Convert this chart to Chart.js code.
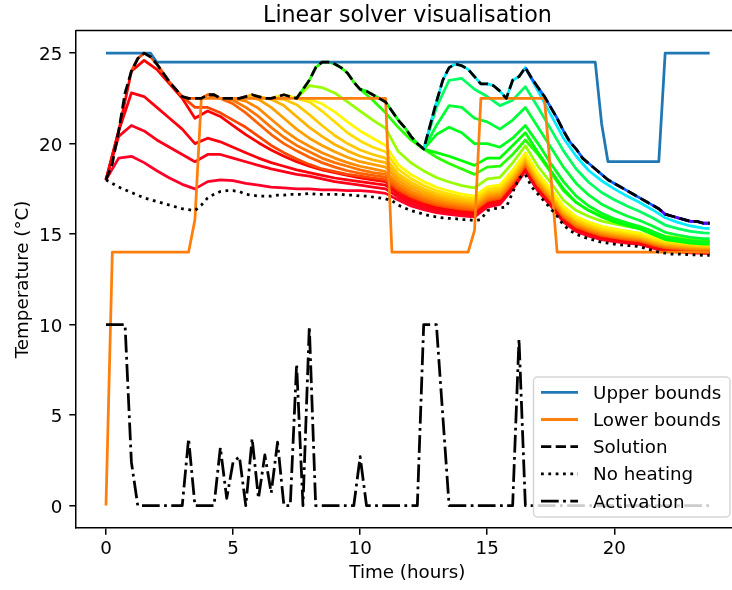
<!DOCTYPE html>
<html>
<head>
<meta charset="utf-8">
<script src="https://cdn.jsdelivr.net/npm/chart.js@4.4.1/dist/chart.umd.min.js"></script>
<style>
  html, body { margin: 0; padding: 0; background: #fff; }
  canvas { display: block; }
</style>
</head>
<body>
<canvas id="solverChart" width="732" height="590" style="width:732px;height:590px"></canvas>
<script>
// Time axis (hours), quarter-hour steps
const hours = [0,0.25,0.5,0.75,1,1.25,1.5,1.75,2,2.25,2.5,2.75,3,3.25,3.5,3.75,4,4.25,4.5,4.75,5,5.25,5.5,5.75,6,6.25,6.5,6.75,7,7.25,7.5,7.75,8,8.25,8.5,8.75,9,9.25,9.5,9.75,10,10.25,10.5,10.75,11,11.25,11.5,11.75,12,12.25,12.5,12.75,13,13.25,13.5,13.75,14,14.25,14.5,14.75,15,15.25,15.5,15.75,16,16.25,16.5,16.75,17,17.25,17.5,17.75,18,18.25,18.5,18.75,19,19.25,19.5,19.75,20,20.25,20.5,20.75,21,21.25,21.5,21.75,22,22.25,22.5,22.75,23,23.25,23.5,23.75];
// coarser grid used by the solver iterations
const halfHours = [0,0.5,1,1.5,2,2.5,3,3.5,4,4.5,5,5.5,6,6.5,7,7.5,8,8.5,9,9.5,10,10.5,11,11.5,12,12.5,13,13.5,14,14.5,15,15.5,16,16.5,17,17.5,18,18.5,19,19.5,20,20.5,21,21.5,22,22.5,23,23.5,23.75];

const upperBounds = [25,25,25,25,25,25,25,25,24.5,24.5,24.5,24.5,24.5,24.5,24.5,24.5,24.5,24.5,24.5,24.5,24.5,24.5,24.5,24.5,24.5,24.5,24.5,24.5,24.5,24.5,24.5,24.5,24.5,24.5,24.5,24.5,24.5,24.5,24.5,24.5,24.5,24.5,24.5,24.5,24.5,24.5,24.5,24.5,24.5,24.5,24.5,24.5,24.5,24.5,24.5,24.5,24.5,24.5,24.5,24.5,24.5,24.5,24.5,24.5,24.5,24.5,24.5,24.5,24.5,24.5,24.5,24.5,24.5,24.5,24.5,24.5,24.5,24.5,21.1,19,19,19,19,19,19,19,19,19,25,25,25,25,25,25,25,25];
const lowerBounds = [0,14,14,14,14,14,14,14,14,14,14,14,14,14,15.8,22.5,22.5,22.5,22.5,22.5,22.5,22.5,22.5,22.5,22.5,22.5,22.5,22.5,22.5,22.5,22.5,22.5,22.5,22.5,22.5,22.5,22.5,22.5,22.5,22.5,22.5,22.5,22.5,22.5,22.5,14,14,14,14,14,14,14,14,14,14,14,14,14,15.2,22.5,22.5,22.5,22.5,22.5,22.5,22.5,22.5,22.5,22.5,22.5,18.3,14,14,14,14,14,14,14,14,14,14,14,14,14,14,14,14,14,14,14,14,14,14,14,14,14];
const solution = [18.0,18.9,20.7,22.8,24.0,24.7,25.0,24.8,24.4,23.9,23.4,23.0,22.6,22.5,22.5,22.5,22.7,22.7,22.5,22.5,22.5,22.5,22.6,22.7,22.6,22.5,22.5,22.6,22.7,22.6,22.5,23.0,23.5,24.2,24.5,24.5,24.4,24.2,23.9,23.4,23.0,22.9,22.7,22.5,22.3,21.8,21.3,20.9,20.4,20.0,19.7,21.0,22.3,23.5,24.2,24.4,24.3,24.1,23.7,23.3,23.3,23.2,22.9,22.5,23.5,23.7,24.2,23.6,23.1,22.6,22.0,21.4,20.7,20.1,19.7,19.2,18.9,18.6,18.3,18.0,17.8,17.6,17.4,17.2,17.0,16.8,16.6,16.4,16.1,16.0,15.9,15.8,15.7,15.7,15.6,15.6];
const noHeating = [18.0,17.8,17.6,17.45,17.3,17.15,17.0,16.9,16.8,16.7,16.6,16.5,16.4,16.35,16.3,16.6,17.0,17.2,17.35,17.4,17.4,17.35,17.2,17.15,17.1,17.1,17.1,17.15,17.15,17.2,17.2,17.2,17.25,17.2,17.2,17.2,17.2,17.2,17.15,17.15,17.1,17.1,17.05,17.0,16.95,16.85,16.6,16.45,16.3,16.2,16.1,16.0,15.95,15.9,15.87,15.85,15.8,15.8,15.75,15.8,16.3,16.4,16.45,16.5,17.3,18.1,18.3,17.6,17.2,16.8,16.4,16.0,15.5,15.2,15.0,14.85,14.75,14.65,14.55,14.5,14.45,14.4,14.37,14.35,14.3,14.2,14.1,14.0,13.95,13.9,13.9,13.88,13.85,13.85,13.83,13.83];
const activation = [10,10,10,10,2.4,0,0,0,0,0,0,0,0,3.7,0,0,0,0,3.2,0.4,2.4,2.7,0,3.7,0.4,2.8,0.7,3.5,0,0,7.8,0,9.9,0,0,0,0,0,0,0,2.7,0,0,0,0,0,0,0,0,0,10,10,10,5,0,0,0,0,0,0,0,0,0,0,0,9.2,0,0,0,0,0,0,0,0,0,0,0,0,0,0,0,0,0,0,0,0,0,0,0,0,0,0,0,0,0,0];

// Solver iterations: values on the half-hour grid, from the divergence time onwards
const tailR1 = [18.0,19.2,19.3,18.95,18.5,18.1,17.75,17.5,17.9,18.0,17.95,17.8,17.7,17.6,17.55,17.5,17.5,17.45,17.45,17.4,17.4,17.35,17.25,16.88,16.56,16.35,16.18,16.09,16.01,15.95,16.49,16.64,17.48,18.47,17.37,16.56,15.66,15.15,14.89,14.69,14.59,14.5,14.43,14.23,14.07,14.02,13.97,13.94,13.94];
const tailR2 = [18.0,20.4,21.0,20.7,20.2,19.8,19.4,19.0,19.4,19.4,19.2,19.0,18.8,18.6,18.45,18.3,18.2,18.05,17.9,17.8,17.7,17.6,17.5,17.04,16.7,16.47,16.3,16.2,16.11,16.05,16.59,16.73,17.57,18.56,17.46,16.64,15.73,15.22,14.95,14.75,14.64,14.55,14.47,14.26,14.11,14.05,14.0,13.97,13.97];
const tailR3 = [18.0,20.7,22.8,22.6,22.0,21.4,20.8,20.0,20.3,20.1,19.8,19.5,19.2,18.95,18.75,18.55,18.4,18.25,18.1,18.0,17.9,17.8,17.7,17.19,16.84,16.6,16.41,16.31,16.21,16.15,16.69,16.83,17.66,18.65,17.54,16.72,15.8,15.29,15.02,14.81,14.7,14.61,14.52,14.32,14.16,14.1,14.05,14.02,14.01];
const tailR4 = [18.0,20.7,24.0,24.6,24.1,23.3,22.5,21.4,21.8,21.5,21.0,20.5,20.05,19.65,19.3,19.0,18.75,18.55,18.4,18.25,18.1,18.0,17.9,17.35,16.98,16.73,16.53,16.42,16.32,16.25,16.79,16.92,17.76,18.74,17.63,16.8,15.88,15.36,15.09,14.88,14.76,14.67,14.58,14.37,14.21,14.15,14.1,14.07,14.06];
const tailO1 = [22.6,22.0,22.0,21.7,21.3,20.9,20.4,19.9,19.5,19.15,18.85,18.6,18.45,18.3,18.2,18.1,18.0,17.43,17.06,16.8,16.6,16.48,16.38,16.31,16.84,16.98,17.81,18.79,17.68,16.85,15.93,15.4,15.13,14.91,14.8,14.7,14.61,14.4,14.24,14.18,14.12,14.09,14.09];
const tailO2 = [22.7,22.5,22.2,21.7,21.1,20.5,20.0,19.6,19.25,18.95,18.7,18.5,18.35,18.25,18.15,17.54,17.15,16.88,16.67,16.55,16.44,16.37,16.9,17.03,17.86,18.85,17.73,16.9,15.97,15.45,15.17,14.95,14.83,14.74,14.65,14.44,14.27,14.21,14.15,14.12,14.12];
const tailO3 = [22.5,22.4,22.0,21.5,20.9,20.35,19.9,19.55,19.2,18.95,18.75,18.55,18.4,18.3,17.66,17.26,16.98,16.77,16.64,16.53,16.45,16.98,17.11,17.94,18.92,17.8,16.96,16.03,15.5,15.23,15.01,14.88,14.78,14.69,14.48,14.31,14.25,14.19,14.16,14.15];
const tailO4 = [22.5,22.35,21.95,21.35,20.75,20.25,19.85,19.5,19.2,18.95,18.75,18.6,18.45,17.78,17.37,17.08,16.86,16.72,16.61,16.53,17.06,17.18,18.01,18.99,17.86,17.02,16.09,15.56,15.28,15.06,14.93,14.83,14.74,14.52,14.36,14.29,14.23,14.2,14.19];
const tailO5 = [22.6,22.45,22.0,21.4,20.8,20.3,19.9,19.55,19.25,19.0,18.85,18.7,17.96,17.53,17.22,16.99,16.84,16.72,16.63,17.15,17.28,18.1,19.07,17.95,17.1,16.17,15.63,15.35,15.12,15.0,14.89,14.79,14.58,14.41,14.34,14.28,14.24,14.24];
const tailO6 = [22.6,22.45,22.1,21.5,20.9,20.4,19.95,19.6,19.3,19.1,18.95,18.14,17.69,17.37,17.11,16.95,16.82,16.73,17.25,17.37,18.19,19.16,18.03,17.18,16.25,15.71,15.42,15.19,15.06,14.95,14.85,14.63,14.46,14.39,14.33,14.29,14.28];
const tailO7 = [22.5,22.45,22.15,21.6,21.0,20.45,20.0,19.65,19.4,19.2,18.32,17.85,17.51,17.24,17.07,16.93,16.83,17.35,17.47,18.28,19.25,18.12,17.26,16.32,15.78,15.48,15.25,15.12,15.01,14.9,14.68,14.51,14.44,14.38,14.34,14.33];
const tailO8 = [22.7,22.5,22.3,21.8,21.2,20.6,20.15,19.8,19.55,18.57,18.06,17.69,17.4,17.21,17.06,16.95,17.46,17.58,18.39,19.36,18.22,17.36,16.41,15.86,15.57,15.33,15.19,15.08,14.97,14.75,14.57,14.5,14.44,14.39,14.38];
const tailO9 = [22.5,22.45,22.2,21.75,21.2,20.7,20.3,19.9,18.83,18.29,17.9,17.59,17.38,17.21,17.1,17.61,17.72,18.53,19.49,18.35,17.48,16.53,15.97,15.67,15.43,15.29,15.17,15.06,14.83,14.65,14.58,14.51,14.47,14.45];
const tailG1 = [22.5,23.2,23.1,22.8,22.3,21.8,21.3,20.85,19.56,18.94,18.49,18.13,17.88,17.68,17.55,18.05,18.14,18.94,19.88,18.73,17.84,16.87,16.3,15.97,15.72,15.57,15.43,15.31,15.07,14.89,14.8,14.73,14.68,14.66];
const tailG2 = [23.0,22.4,21.7,20.9,20.2,19.7,19.25,18.9,18.6,18.3,18.7,18.75,19.4,20.2,19.4,18.4,17.4,16.75,16.3,16.0,15.75,15.57,15.4,15.15,14.85,14.75,14.66,14.6,14.6];
const tailG3 = [19.7,19.5,19.3,19.05,18.8,19.2,19.2,19.9,20.6,19.5,18.5,17.5,16.75,16.3,15.95,15.67,15.47,15.28,15.0,14.7,14.6,14.5,14.45,14.45];
const tailG4 = [19.7,20.5,20.9,20.6,20.0,20.0,19.8,20.3,21.0,20.0,18.9,17.9,17.1,16.55,16.15,15.85,15.62,15.42,15.15,14.82,14.72,14.6,14.55,14.55];
const tailG5 = [19.7,21.0,22.1,22.0,21.4,21.2,20.8,21.3,22.0,20.9,19.8,18.7,17.8,17.15,16.65,16.3,16.0,15.75,15.45,15.1,14.95,14.82,14.75,14.75];
const tailG6 = [19.7,22.0,23.5,23.6,23.0,22.6,22.1,22.4,23.15,22.0,20.8,19.6,18.6,17.85,17.3,16.9,16.55,16.25,15.9,15.5,15.3,15.15,15.07,15.06];
const tailC2 = [24.2,22.9,21.6,20.3,19.3,18.5,17.95,17.5,17.1,16.75,16.35,15.9,15.65,15.45,15.33,15.3];

// start = where the drawn line leaves the previous iteration, diverge = first own value
const iterations = [
  { start: 0, diverge: 0, tail: tailR1 },
  { start: 0, diverge: 0, tail: tailR2 },
  { start: 0, diverge: 0, tail: tailR3 },
  { start: 0, diverge: 0, tail: tailR4 },
  { start: 1, diverge: 3, tail: tailO1 },
  { start: 3, diverge: 4, tail: tailO2 },
  { start: 4, diverge: 4.5, tail: tailO3 },
  { start: 4.5, diverge: 5, tail: tailO4 },
  { start: 5, diverge: 5.5, tail: tailO5 },
  { start: 5.5, diverge: 6, tail: tailO6 },
  { start: 6, diverge: 6.5, tail: tailO7 },
  { start: 6.5, diverge: 7, tail: tailO8 },
  { start: 7, diverge: 7.5, tail: tailO9 },
  { start: 7.5, diverge: 7.5, tail: tailG1 },
  { start: 7.5, diverge: 10, tail: tailG2 },
  { start: 10, diverge: 12.5, tail: tailG3 },
  { start: 12.5, diverge: 12.5, tail: tailG4 },
  { start: 12.5, diverge: 12.5, tail: tailG5 },
  { start: 12.5, diverge: 12.5, tail: tailG6 },
  { start: 12.5, diverge: 16.5, tail: tailC2 },
  { start: 16.5, diverge: 24, tail: [] },
  { start: 21.5, diverge: 24, tail: [] }
];
// position of each iteration in the gist_rainbow colormap
const iterShade = [0.0, 0.01, 0.02, 0.03, 0.08, 0.1, 0.115, 0.13, 0.145, 0.16, 0.175, 0.19, 0.21, 0.29, 0.37, 0.4, 0.42, 0.44, 0.47, 0.6, 0.70, 0.84];

const xTicks = [0, 5, 10, 15, 20];
const yTicks = [0, 5, 10, 15, 20, 25];

// ---- styles (matplotlib look, ~133 dpi) ----
const LW = 2.77;
const FONT = 'DejaVu Sans';
const DASHED = [10.3, 4.4];
const DOTTED = [2.77, 4.57];
const DASHDOT = [17.7, 4.4, 2.77, 4.4];

const RAINBOW = [
  [0.000, 1, 0, 0.16], [0.030, 1, 0, 0], [0.215, 1, 1, 0], [0.400, 0, 1, 0],
  [0.586, 0, 1, 1], [0.770, 0, 0, 1], [0.954, 1, 0, 1], [1.000, 1, 0, 0.75]
];
function rainbow(p) {
  for (let i = 1; i < RAINBOW.length; i++) {
    const a = RAINBOW[i - 1], b = RAINBOW[i];
    if (p <= b[0]) {
      const f = (p - a[0]) / (b[0] - a[0]);
      const c = [1, 2, 3].map(k => Math.round(255 * (a[k] + f * (b[k] - a[k]))));
      return 'rgb(' + c.join(',') + ')';
    }
  }
  return 'rgb(255,0,191)';
}

function series(values) {
  return values.map((v, i) => ({ x: hours[i], y: v }));
}

function iterationPoints(it) {
  const pts = [];
  hours.forEach((t, i) => {
    if (t >= it.start && t < it.diverge) pts.push({ x: t, y: solution[i] });
  });
  const tt = halfHours.filter(t => t >= it.diverge);
  it.tail.forEach((v, j) => pts.push({ x: tt[j], y: v }));
  return pts;
}

function lineSet(label, data, color, dash) {
  return {
    label: label,
    data: data,
    borderColor: color,
    borderWidth: LW,
    borderDash: dash || [],
    borderCapStyle: 'butt',
    borderJoinStyle: 'round',
    pointRadius: 0,
    tension: 0,
    fill: false
  };
}

// bottom-to-top drawing order, reversed for Chart.js
const layers = [];
iterations.forEach((it, k) => {
  layers.push(lineSet('', iterationPoints(it), rainbow(iterShade[k])));
});
layers.push(lineSet('Upper bounds', series(upperBounds), '#1f77b4'));
layers.push(lineSet('Lower bounds', series(lowerBounds), '#ff7f0e'));
layers.push(lineSet('Solution', series(solution), '#000000', DASHED));
layers.push(lineSet('No heating', series(noHeating), '#000000', DOTTED));
layers.push(lineSet('Activation', series(activation), '#000000', DASHDOT));
const datasets = layers.slice().reverse();

const legendItems = [
  { label: 'Upper bounds', color: '#1f77b4', dash: [] },
  { label: 'Lower bounds', color: '#ff7f0e', dash: [] },
  { label: 'Solution', color: '#000000', dash: DASHED },
  { label: 'No heating', color: '#000000', dash: DOTTED },
  { label: 'Activation', color: '#000000', dash: DASHDOT }
];

// frame, texts and legend drawn like matplotlib
const decorations = {
  id: 'decorations',
  afterDraw(chart) {
    const ctx = chart.ctx;
    const a = chart.chartArea;
    ctx.save();
    ctx.strokeStyle = '#000';
    ctx.lineWidth = 1.5;
    ctx.beginPath();
    ctx.moveTo(a.left, a.top);
    ctx.lineTo(a.right, a.top);
    ctx.stroke();

    ctx.fillStyle = '#000';
    ctx.font = '22.2px "' + FONT + '"';
    ctx.textAlign = 'center';
    ctx.textBaseline = 'alphabetic';
    ctx.fillText('Linear solver visualisation', 407.4, 21.5);

    ctx.font = '18.3px "' + FONT + '"';
    ctx.fillText('Time (hours)', 407.4, 578);
    ctx.save();
    ctx.translate(28, 279.4);
    ctx.rotate(-Math.PI / 2);
    ctx.fillText('Temperature (°C)', 0, 0);
    ctx.restore();

    // legend box
    const bx = 533.5, by = 377, bw = 196.5, bh = 140, r = 4;
    ctx.beginPath();
    ctx.moveTo(bx + r, by);
    ctx.lineTo(bx + bw - r, by);
    ctx.arcTo(bx + bw, by, bx + bw, by + r, r);
    ctx.lineTo(bx + bw, by + bh - r);
    ctx.arcTo(bx + bw, by + bh, bx + bw - r, by + bh, r);
    ctx.lineTo(bx + r, by + bh);
    ctx.arcTo(bx, by + bh, bx, by + bh - r, r);
    ctx.lineTo(bx, by + r);
    ctx.arcTo(bx, by, bx + r, by, r);
    ctx.closePath();
    ctx.fillStyle = 'rgba(255,255,255,0.8)';
    ctx.fill();
    ctx.strokeStyle = 'rgba(204,204,204,0.8)';
    ctx.lineWidth = 1.5;
    ctx.stroke();

    ctx.textAlign = 'left';
    legendItems.forEach((item, i) => {
      const y = 392.3 + i * 27.2;
      ctx.beginPath();
      ctx.setLineDash(item.dash);
      ctx.lineCap = 'butt';
      ctx.strokeStyle = item.color;
      ctx.lineWidth = LW;
      ctx.moveTo(541, y);
      ctx.lineTo(578, y);
      ctx.stroke();
      ctx.setLineDash([]);
      ctx.fillStyle = '#000';
      ctx.fillText(item.label, 593, y + 6.4);
    });
    ctx.restore();
  }
};

Chart.defaults.font.family = FONT;
Chart.defaults.font.size = 18.3;
Chart.defaults.color = '#000';

new Chart(document.getElementById('solverChart').getContext('2d'), {
  type: 'line',
  data: { datasets: datasets },
  options: {
    responsive: false,
    animation: false,
    devicePixelRatio: 1,
    parsing: true,
    layout: { padding: { top: 30.5, left: 0, right: 0, bottom: 0 } },
    plugins: { legend: { display: false }, tooltip: { enabled: false }, title: { display: false } },
    scales: {
      x: {
        type: 'linear',
        min: -1.1875,
        max: 24.63,
        afterBuildTicks: s => { s.ticks = xTicks.map(v => ({ value: v })); },
        afterFit: s => { s.height = 61.8; },
        ticks: { autoSkip: false, maxRotation: 0, padding: 4, callback: v => String(v) },
        grid: { display: true, drawOnChartArea: false, drawTicks: true, tickLength: 6.5, color: '#000', lineWidth: 1.5 },
        border: { display: true, color: '#000', width: 1.5 }
      },
      y: {
        type: 'linear',
        min: -1.25,
        max: 26.25,
        afterBuildTicks: s => { s.ticks = yTicks.map(v => ({ value: v })); },
        afterFit: s => { s.width = 75.8; },
        ticks: { autoSkip: false, padding: 7, labelOffset: 2.5, callback: v => String(v) },
        grid: { display: true, drawOnChartArea: false, drawTicks: true, tickLength: 6.5, color: '#000', lineWidth: 1.5 },
        border: { display: true, color: '#000', width: 1.5 }
      }
    }
  },
  plugins: [decorations]
});
</script>
</body>
</html>
